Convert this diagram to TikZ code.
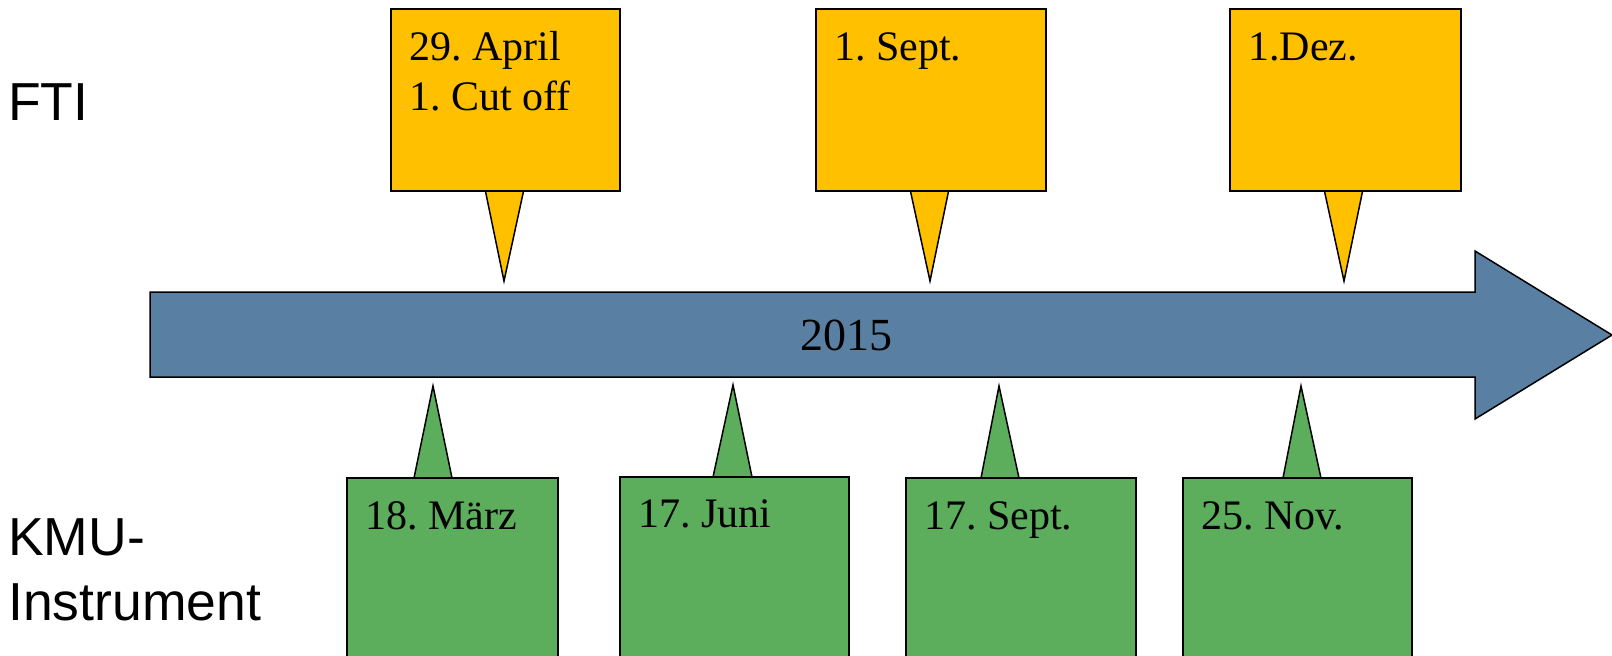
\documentclass[tikz,border=0pt]{standalone}
\usepackage{fontspec}
\setmainfont{Liberation Serif}
\newfontfamily\rowfont{Liberation Sans}
\definecolor{ycol}{RGB}{255,192,0}
\definecolor{gcol}{RGB}{92,173,92}
\definecolor{bcol}{RGB}{89,128,163}
\frenchspacing
\begin{document}
\begin{tikzpicture}[x=1pt,y=-1pt,
  outline/.style={draw=black, line width=1.5pt, line join=miter},
  ybox/.style={outline, fill=ycol, rectangle, inner sep=0pt, anchor=north west, minimum height=182pt},
  gbox/.style={outline, fill=gcol, rectangle, inner sep=0pt, anchor=north west, minimum height=220pt},
  datetext/.style={anchor=base west, inner sep=0pt, align=left, font=\fontsize{42}{50}\selectfont},
  rowlabel/.style={anchor=base west, inner sep=0pt, align=left, font=\rowfont\fontsize{53.5}{65}\selectfont},
  yeartext/.style={anchor=base west, inner sep=0pt, font=\fontsize{46}{55}\selectfont}
]
\clip (0,0) rectangle (1612,656);

% timeline arrow
\draw[outline, fill=bcol] (150,292) -- (1475,292) -- (1475,251) -- (1612,335)
  -- (1475,419) -- (1475,377) -- (150,377) -- cycle;
\node[yeartext] (year) at (800,350) {2015};

% row labels (base anchor = baseline of last line)
\node[rowlabel] (fti) at (8,120) {FTI};
\node[rowlabel] (kmu) at (8,620) {KMU-\\Instrument};

% FTI callouts (tails first, boxes on top)
\coordinate (yt1) at (504,281);
\coordinate (yt2) at (930,281);
\coordinate (yt3) at (1344,281);
\fill[ycol] (485,189) -- (yt1) -- (524,189) -- cycle;
\draw[outline] (485,189) -- (yt1) -- (524,189);
\fill[ycol] (910,189) -- (yt2) -- (949,189) -- cycle;
\draw[outline] (910,189) -- (yt2) -- (949,189);
\fill[ycol] (1324,189) -- (yt3) -- (1363,189) -- cycle;
\draw[outline] (1324,189) -- (yt3) -- (1363,189);

\node[ybox, minimum width=229pt] (y1) at (390,8) {};
\node[ybox, minimum width=230pt] (y2) at (815,8) {};
\node[ybox, minimum width=231pt] (y3) at (1229,8) {};
\node[datetext] (y1t) at (409,110) {29. April\\1. Cut off};
\node[datetext] (y2t) at (834,60) {1. Sept.};
\node[datetext] (y3t) at (1248,60) {1.Dez.};

% KMU callouts
\coordinate (gt1) at (433,386);
\coordinate (gt2) at (733,385);
\coordinate (gt3) at (999,386);
\coordinate (gt4) at (1301,386);
\fill[gcol] (414,478) -- (gt1) -- (452,478) -- cycle;
\draw[outline] (414,478) -- (gt1) -- (452,478);
\fill[gcol] (713,477) -- (gt2) -- (752,477) -- cycle;
\draw[outline] (713,477) -- (gt2) -- (752,477);
\fill[gcol] (981,478) -- (gt3) -- (1019,478) -- cycle;
\draw[outline] (981,478) -- (gt3) -- (1019,478);
\fill[gcol] (1283,478) -- (gt4) -- (1321,478) -- cycle;
\draw[outline] (1283,478) -- (gt4) -- (1321,478);

\node[gbox, minimum width=211pt] (g1) at (346,477) {};
\node[gbox, minimum width=229pt] (g2) at (619,476) {};
\node[gbox, minimum width=230pt] (g3) at (905,477) {};
\node[gbox, minimum width=229pt] (g4) at (1182,477) {};
\node[datetext] (g1t) at (365,529) {18. März};
\node[datetext] (g2t) at (638,527) {17. Juni};
\node[datetext] (g3t) at (924,529) {17. Sept.};
\node[datetext] (g4t) at (1201,529) {25. Nov.};
\end{tikzpicture}
\end{document}
